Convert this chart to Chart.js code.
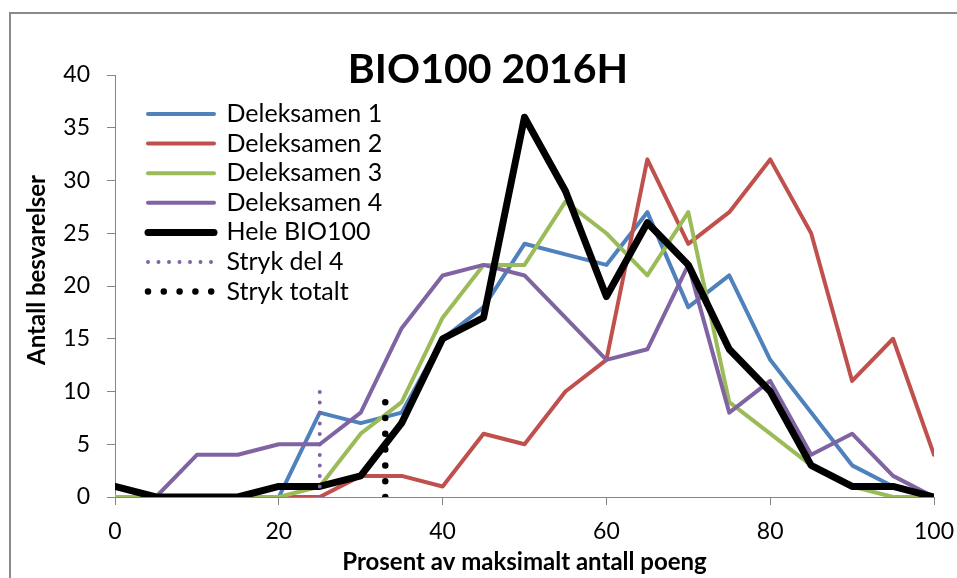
<!DOCTYPE html>
<html><head><meta charset="utf-8">
<script src="https://cdn.jsdelivr.net/npm/chart.js@4"></script>
<style>html,body{margin:0;padding:0;background:#fff}canvas{display:block}</style>
</head><body>
<canvas id="c" width="957" height="578"></canvas>
<script>
// ---- data ----
const chartTitle = 'BIO100 2016H';
const xTitle = 'Prosent av maksimalt antall poeng';
const yTitle = 'Antall besvarelser';
const percent      = [0,5,10,15,20,25,30,35,40,45,50,55,60,65,70,75,80,85,90,95,100];
const deleksamen1  = [0,0,0,0,0,8,7,8,15,18,24,23,22,27,18,21,13,8,3,1,0];
const deleksamen2  = [0,0,0,0,0,0,2,2,1,6,5,10,13,32,24,27,32,25,11,15,4];
const deleksamen3  = [0,0,0,0,0,1,6,9,17,22,22,28,25,21,27,9,6,3,1,0,0];
const deleksamen4  = [null,0,4,4,5,5,8,16,21,22,21,17,13,14,22,8,11,4,6,2,0];
const heleBio100   = [1,0,0,0,1,1,2,7,15,17,36,29,19,26,22,14,10,3,1,1,0];
const strykDel4X   = [25,25];
const strykDel4Y   = [0,10];
const strykTotaltX = [33,33];
const strykTotaltY = [0,9];

const pts = (xs, ys) => xs.map((x,i) => ({x, y: ys[i]}));

Chart.defaults.font.family = 'Lato';
Chart.defaults.color = '#000';

const mainLine = (label, ys, color, width, order) => ({
  label, data: pts(percent, ys), borderColor: color, backgroundColor: color,
  borderWidth: width, pointRadius: 0, tension: 0, borderCapStyle: 'round',
  borderJoinStyle: 'round', order
});

const framePlugin = {
  id: 'frameAndTitles',
  afterLayout(chart) {
    const a = chart.chartArea;
    chart.legend.left = a.left + 28.4;
    chart.legend.top = a.top + 21.9;
  },
  beforeDraw(chart) {
    const ctx = chart.ctx;
    ctx.save();
    ctx.fillStyle = '#fff';
    ctx.fillRect(0, 0, chart.width, chart.height);
    ctx.strokeStyle = '#8a8a8a';
    ctx.lineWidth = 2;
    ctx.strokeRect(10, 13, 2000, 2000);
    ctx.restore();
  },
  afterDraw(chart) {
    const ctx = chart.ctx;
    ctx.save();
    ctx.fillStyle = '#000';
    ctx.font = 'bold 41px Lato';
    ctx.textAlign = 'center';
    ctx.textBaseline = 'alphabetic';
    ctx.fillText(chartTitle, 488, 83);
    ctx.translate(45, 270);
    ctx.rotate(-Math.PI / 2);
    ctx.font = 'bold 24px Lato';
    ctx.fillText(yTitle, 0, 0);
    ctx.restore();
  }
};

new Chart(document.getElementById('c'), {
  type: 'line',
  data: {
    datasets: [
      mainLine('Deleksamen 1', deleksamen1, '#4F81BD', 4, 6),
      mainLine('Deleksamen 2', deleksamen2, '#C0504D', 4, 5),
      mainLine('Deleksamen 3', deleksamen3, '#9BBB59', 4, 4),
      mainLine('Deleksamen 4', deleksamen4, '#8064A2', 4, 3),
      mainLine('Hele BIO100', heleBio100, '#000000', 7, 2),
      { label: 'Stryk del 4', data: pts(strykDel4X, strykDel4Y), borderColor: '#8064A2',
        backgroundColor: '#8064A2', borderWidth: 4, borderDash: [0, 10.5], borderCapStyle: 'round',
        pointRadius: 0, order: 1 },
      { label: 'Stryk totalt', data: pts(strykTotaltX, strykTotaltY), borderColor: '#000000',
        backgroundColor: '#000000', borderWidth: 6.5, borderDash: [0, 15.8], borderCapStyle: 'round',
        pointRadius: 0, order: 0 }
    ]
  },
  options: {
    responsive: false,
    animation: false,
    layout: { padding: { left: 0, top: 75, right: 23, bottom: 0 } },
    plugins: {
      title: { display: false },
      tooltip: { enabled: false },
      legend: {
        position: 'chartArea',
        align: 'start',
        labels: {
          usePointStyle: true,
          pointStyle: 'line',
          pointStyleWidth: 66,
          padding: 4.6,
          color: '#000',
          font: { size: 25, family: 'Lato' },
          sort: (a, b) => a.datasetIndex - b.datasetIndex,
          generateLabels(chart) {
            const items = Chart.defaults.plugins.legend.labels.generateLabels(chart);
            return items.map(it => {
              const ds = chart.data.datasets[it.datasetIndex];
              return Object.assign(it, {
                lineWidth: ds.borderWidth, lineDash: ds.borderDash || [],
                lineCap: ds.borderCapStyle || 'butt', strokeStyle: ds.borderColor
              });
            });
          }
        }
      }
    },
    scales: {
      x: {
        type: 'linear', min: 0, max: 100,
        afterFit(s) { s.height = 81; s.paddingLeft = 0; s.paddingRight = 0; },
        ticks: { stepSize: 20, padding: 13, font: { size: 23 }, color: '#000', maxRotation: 0 },
        grid: { display: true, drawOnChartArea: false, drawTicks: true, tickLength: 8, color: '#868686' },
        border: { display: true, color: '#868686', width: 1 },
        title: { display: true, text: xTitle, font: { size: 24, weight: 'bold' }, color: '#000', padding: { top: 0, bottom: 1.6 } }
      },
      y: {
        min: 0, max: 40,
        afterFit(s) { s.width = 115; },
        ticks: { stepSize: 5, padding: 17, font: { size: 23 }, color: '#000' },
        grid: { display: true, drawOnChartArea: false, drawTicks: true, tickLength: 8, color: '#868686' },
        border: { display: true, color: '#868686', width: 1 }
      }
    }
  },
  plugins: [framePlugin]
});
</script>
</body></html>
